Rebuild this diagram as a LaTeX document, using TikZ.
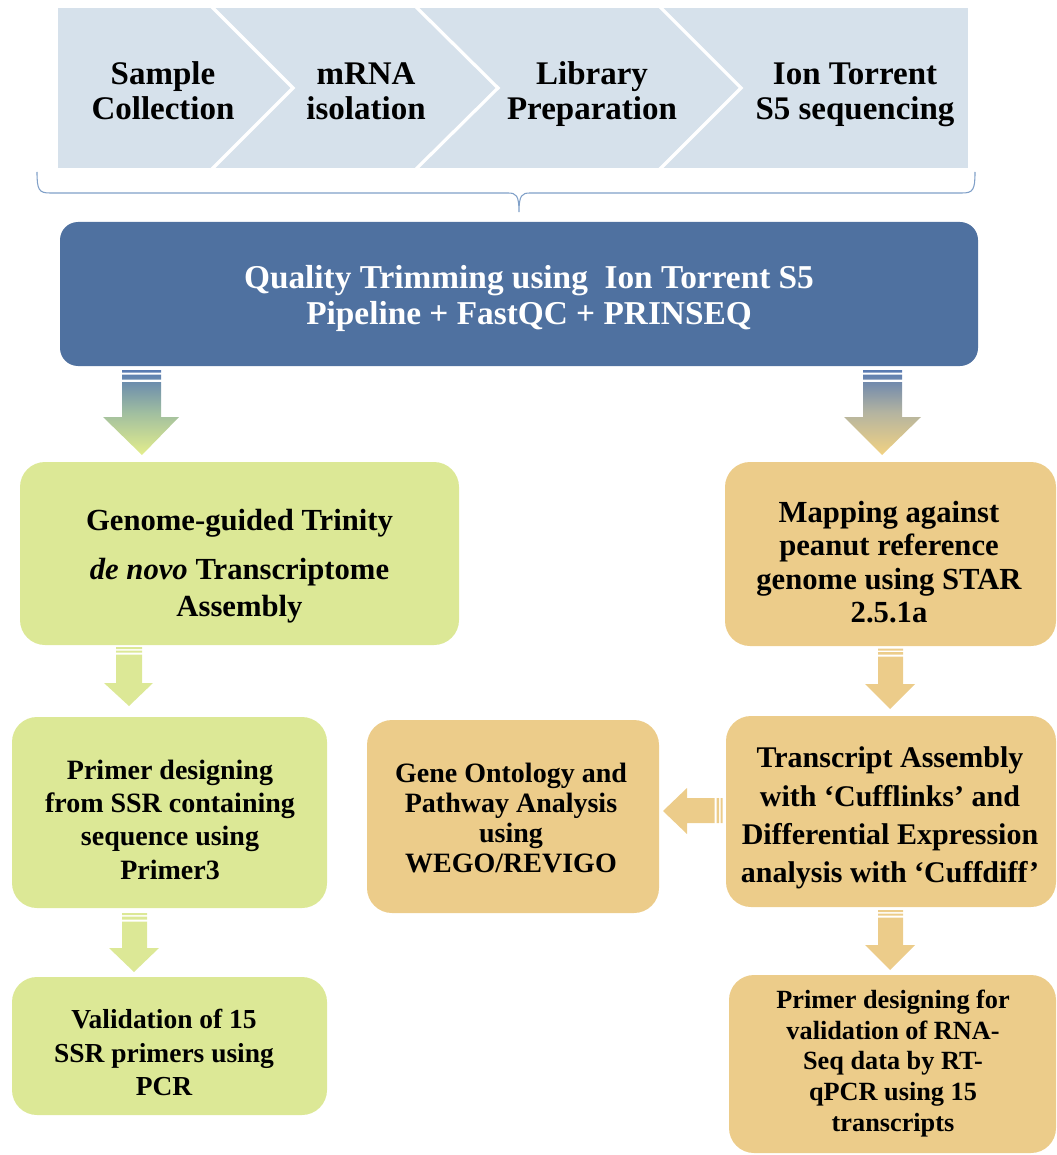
\documentclass[tikz,border=0pt]{standalone}
\usepackage{fontspec}
\setmainfont{Liberation Serif}
\definecolor{chevc}{RGB}{214,225,235}
\definecolor{bracec}{RGB}{128,160,200}
\definecolor{bluec}{RGB}{79,113,160}
\definecolor{greenc}{RGB}{220,232,150}
\definecolor{orangec}{RGB}{236,204,138}
\definecolor{arrblue}{RGB}{88,122,178}
\definecolor{arrgreen}{RGB}{228,238,140}
\definecolor{arrorange}{RGB}{242,210,130}
\definecolor{midgreen}{RGB}{160,190,160}
\definecolor{midorange}{RGB}{180,180,160}
\begin{document}
\begin{tikzpicture}[x=0.75pt,y=-0.75pt,
  box/.style={draw=none, inner sep=0pt, rounded corners=18.75pt},
  txt/.style={inner sep=0pt, align=center, text=black},
  fs/.style 2 args={font=\bfseries\fontsize{#1}{#2}\selectfont}]
\useasboundingbox (0,0) rectangle (1056,1155);

% ---- top chevron band
\begin{scope}
  \clip (58,8) rectangle (968,168);
  \fill[chevc] (58,8) rectangle (968,168);
  \foreach \a/\b in {213/293, 417/498, 661/741}
    \draw[white, line width=2.4pt] (\a-8,0) -- (\b,88) -- (\a-8,176);
\end{scope}
\node[txt, fs={24.75pt}{26.25pt}] (c1) at (163,91) {Sample\\Collection};
\node[txt, fs={24.75pt}{26.25pt}] (c2) at (366,91) {mRNA\\isolation};
\node[txt, fs={24.75pt}{26.25pt}] (c3) at (592,94.5) {Library\\Preparation};
\node[txt, fs={24.75pt}{26.25pt}] (c4) at (855,94.5) {Ion Torrent\\S5 sequencing};

% ---- brace
\draw[bracec, line width=0.8pt]
  (37,172) .. controls (37,190) and (39,193) .. (50,193) -- (508,193)
  .. controls (516,193) and (519,195) .. (519,212)
  .. controls (519,195) and (522,193) .. (530,193) -- (962,193)
  .. controls (973,193) and (975,190) .. (975,172);

% ---- boxes
\node[box, fill=bluec, rounded corners=13.5pt, minimum width=688.5pt, minimum height=108pt] (qt) at (519,294) {};
\node[box, fill=greenc, minimum width=329.25pt, minimum height=137.25pt] (g1) at (239.5,553.5) {};
\node[box, fill=orangec, minimum width=248.25pt, minimum height=138pt] (o1) at (890.5,554) {};
\node[box, fill=greenc, minimum width=236.25pt, minimum height=143.25pt] (g2) at (169.5,812.5) {};
\node[box, fill=orangec, minimum width=219pt, minimum height=144.75pt] (go) at (513,816.5) {};
\node[box, fill=orangec, minimum width=247.5pt, minimum height=143.25pt] (o2) at (891,811.5) {};
\node[box, fill=greenc, minimum width=236.25pt, minimum height=103.5pt] (g3) at (169.5,1046) {};
\node[box, fill=orangec, minimum width=245.25pt, minimum height=133.5pt] (o3) at (892.5,1064) {};

% ---- texts
\node[txt, text=white, fs={25pt}{27pt}] (tqt) at (529,298) {Quality Trimming using~ Ion Torrent S5\\Pipeline + FastQC + PRINSEQ};
\node[txt, fs={23pt}{27.75pt}] (tg1) at (239.5,566.5) {Genome-guided Trinity\\[9pt]\textit{de novo} Transcriptome\\Assembly};
\node[txt, fs={23pt}{25.2pt}] (to1) at (889,562) {Mapping against\\peanut reference\\genome using STAR\\2.5.1a};
\node[txt, fs={21pt}{25pt}] (tg2) at (170,819.5) {Primer designing\\from SSR containing\\sequence using\\Primer3};
\node[txt, fs={21pt}{22.4pt}] (tgo) at (511,818) {Gene Ontology and\\Pathway Analysis\\using\\WEGO/REVIGO};
\node[txt, fs={22.5pt}{28.6pt}] (to2) at (890,818) {Transcript Assembly\\with `Cufflinks' and\\Differential Expression\\analysis with `Cuffdiff'};
\node[txt, fs={20.6pt}{25pt}] (tg3) at (164,1052.5) {Validation of 15\\SSR primers using\\PCR};
\node[txt, fs={19.7pt}{23.1pt}] (to3) at (893,1063.5) {Primer designing for\\validation of RNA-\\Seq data by RT-\\qPCR using 15\\transcripts};

% ---- block arrows
\shade[top color=arrblue, bottom color=arrgreen, middle color=midgreen]
  (122,370) rectangle (161,372.5) (122,374.5) rectangle (161,379.5)
  (122,382) -- (161,382) -- (161,417) -- (179,417) -- (142,455) -- (103,417) -- (122,417) -- cycle;
\shade[top color=arrblue, bottom color=arrorange, middle color=midorange]
  (863,370) rectangle (902,372.5) (863,374.5) rectangle (902,379.5)
  (863,382) -- (902,382) -- (902,417) -- (921,417) -- (882,455) -- (844,417) -- (863,417) -- cycle;
\fill[greenc]
  (116,647) rectangle (142,649) (116,650.5) rectangle (142,652.5)
  (116,654.5) -- (142,654.5) -- (142,683) -- (153,683) -- (129,706) -- (104,683) -- (116,683) -- cycle;
\fill[orangec]
  (878,648.5) rectangle (903,650.5) (878,652) rectangle (903,654.5)
  (878,656.5) -- (903,656.5) -- (903,684) -- (915,684) -- (890,709) -- (865,684) -- (878,684) -- cycle;
\fill[greenc]
  (122,913) rectangle (147,915) (122,916.5) rectangle (147,919.5)
  (122,921.5) -- (147,921.5) -- (147,948) -- (159,948) -- (134,972) -- (109,948) -- (122,948) -- cycle;
\fill[orangec]
  (878,910) rectangle (903,912) (878,913.5) rectangle (903,915.5)
  (878,917.5) -- (903,917.5) -- (903,945) -- (915,945) -- (890,970) -- (865,945) -- (878,945) -- cycle;
\fill[orangec]
  (722.5,798) rectangle (720.5,823) (719,798) rectangle (716.5,823)
  (714.5,798) -- (714.5,823) -- (687,823) -- (687,834) -- (663,811) -- (687,788) -- (687,798) -- cycle;
\end{tikzpicture}
\end{document}
